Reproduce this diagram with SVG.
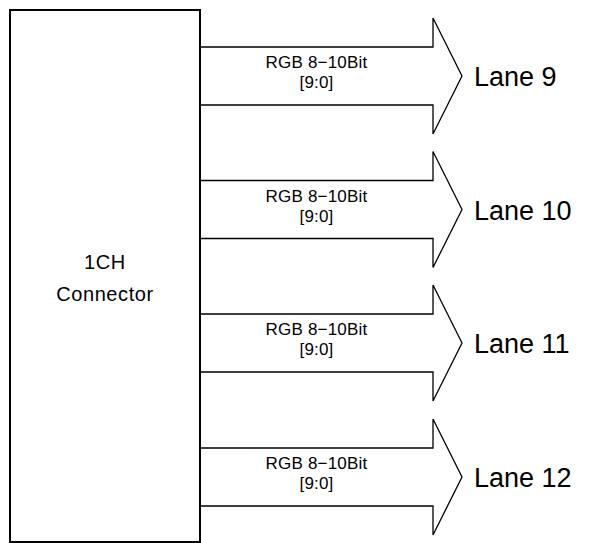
<svg xmlns="http://www.w3.org/2000/svg" width="606" height="543" viewBox="0 0 606 543">
<style>
.ln{fill:none;stroke:#000;stroke-width:1.3}
.box{fill:#fff;stroke:#000;stroke-width:2}
.t{font-family:"Liberation Sans",Arial,sans-serif;fill:#000;text-anchor:middle}
.s{font-size:17px;letter-spacing:0.2px}
.c{font-size:20px;letter-spacing:0.6px}
.lane{font-family:"Liberation Sans",Arial,sans-serif;font-size:27px;fill:#000}
</style>
<rect width="606" height="543" fill="#fff"/>
<g id="connectors">
<path class="ln" d="M200,47 H433 V18 L462,76 L433,134 V105 H200"/>
<path class="ln" d="M200,180.5 H433 V151.5 L462,209.5 L433,267.5 V238.5 H200"/>
<path class="ln" d="M200,314 H433 V285 L462,343 L433,401 V372 H200"/>
<path class="ln" d="M200,448 H433 V419 L462,477 L433,535 V506 H200"/>
</g>
<g id="connector-box">
<rect class="box" x="10" y="10" width="190" height="532"/>
<text class="t c" x="105" y="269">1CH</text>
<text class="t c" x="105" y="301">Connector</text>
</g>
<g id="label-9">
<text class="t s" x="316.5" y="68">RGB 8−10Bit</text>
<text class="t s" x="316.5" y="88">[9:0]</text>
</g>
<g id="label-10">
<text class="t s" x="316.5" y="201.5">RGB 8−10Bit</text>
<text class="t s" x="316.5" y="221.5">[9:0]</text>
</g>
<g id="label-11">
<text class="t s" x="316.5" y="335">RGB 8−10Bit</text>
<text class="t s" x="316.5" y="355">[9:0]</text>
</g>
<g id="label-12">
<text class="t s" x="316.5" y="469">RGB 8−10Bit</text>
<text class="t s" x="316.5" y="489">[9:0]</text>
</g>
<g id="lane-9"><text class="lane" x="474" y="86">Lane 9</text></g>
<g id="lane-10"><text class="lane" x="474" y="219.5">Lane 10</text></g>
<g id="lane-11"><text class="lane" x="474" y="353">Lane 11</text></g>
<g id="lane-12"><text class="lane" x="474" y="487">Lane 12</text></g>
</svg>
